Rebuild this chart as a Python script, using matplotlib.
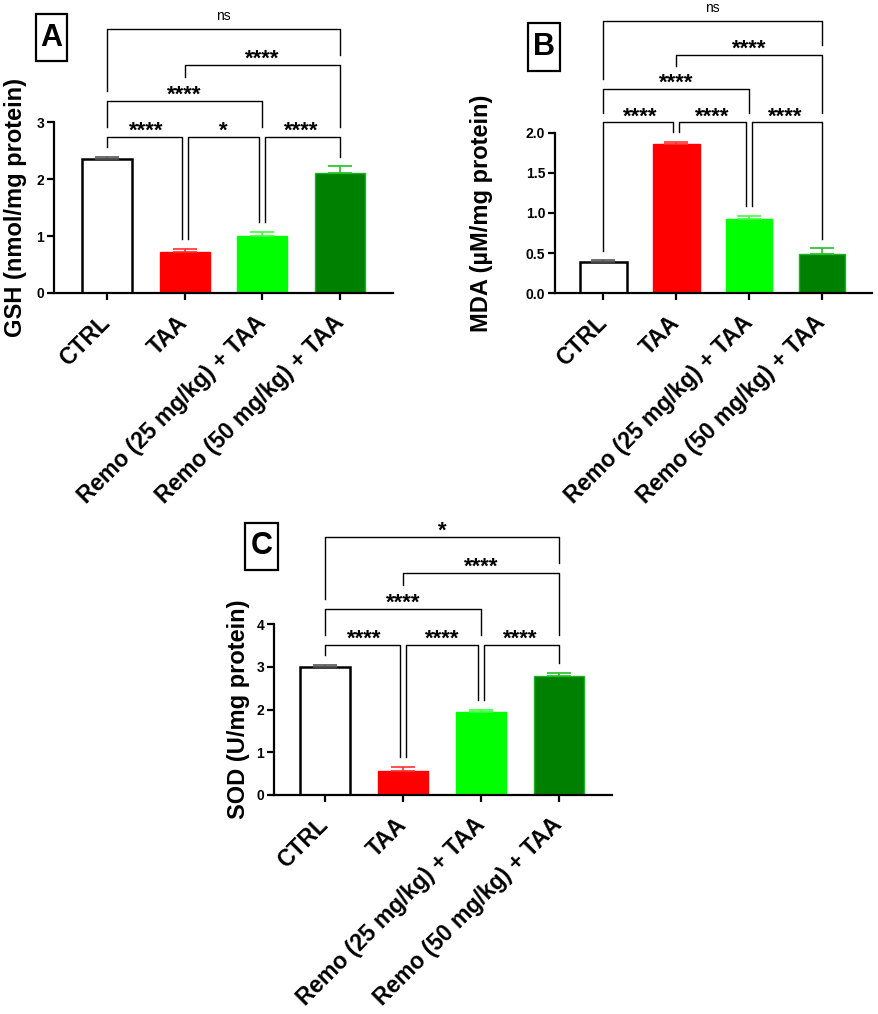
import matplotlib
matplotlib.use('Agg')
import matplotlib.pyplot as plt
from matplotlib.patches import Rectangle

plt.rcParams['font.family'] = ['Liberation Sans', 'DejaVu Sans']

groups = ['CTRL', 'TAA', 'Remo (25 mg/kg) + TAA', 'Remo (50 mg/kg) + TAA']

gsh_mean = [2.35, 0.72, 1.00, 2.10]
gsh_sem = [0.03, 0.05, 0.07, 0.12]
mda_mean = [0.39, 1.855, 0.925, 0.485]
mda_sem = [0.02, 0.035, 0.04, 0.075]
sod_mean = [2.99, 0.57, 1.94, 2.78]
sod_sem = [0.05, 0.09, 0.05, 0.08]

comparisons = [(0, 1), (1, 2), (2, 3), (0, 2), (1, 3), (0, 3)]
comparison_rows = [0, 0, 0, 1, 2, 3]
gsh_stars = ['****', '*', '****', '****', '****', 'ns']
mda_stars = ['****', '****', '****', '****', '****', 'ns']
sod_stars = ['****', '****', '****', '****', '****', '*']

bar_colors = ['white', '#ff0000', '#00ff00', '#008000']
edge_colors = ['black', '#ff0000', '#00ff00', '#22b022']
err_colors = ['#555555', '#ff3030', '#40ff40', '#22c022']

W, H = 879, 1014
fig = plt.figure(figsize=(W / 100, H / 100), dpi=100, facecolor='white')


def draw_panel(rect, means, sems, stars, yticks, yticklabels, ylabel, label_x, xlim):
    ax = fig.add_axes(rect)
    for i in range(len(groups)):
        ax.bar(i, means[i], width=0.64, color=bar_colors[i], edgecolor=edge_colors[i],
               linewidth=1.8 if i == 0 else 1.0, zorder=2)
        ax.errorbar(i, means[i], yerr=[[0], [sems[i]]], fmt='none', ecolor=err_colors[i],
                    elinewidth=1.2, capsize=8.5, capthick=1.2, zorder=3)
    ax.set_xlim(*xlim)
    ax.set_ylim(0, yticks[-1])
    ax.set_yticks(yticks)
    ax.set_yticklabels(yticklabels, fontsize=10, fontweight='bold')
    ax.set_xticks(range(len(groups)))
    ax.set_xticklabels(groups, rotation=45, ha='right', va='center', rotation_mode='anchor',
                       fontsize=16.5, fontweight='bold')
    ax.tick_params(axis='x', length=5, width=1.6, pad=14)
    ax.tick_params(axis='y', length=5, width=1.6, pad=2)
    for side in ['top', 'right']:
        ax.spines[side].set_visible(False)
    for side in ['left', 'bottom']:
        ax.spines[side].set_linewidth(1.6)
    ax.set_ylabel(ylabel, fontsize=17, fontweight='bold')
    ax.yaxis.set_label_coords(label_x, 0.5)

    # significance brackets, stacked in rows above the bars (sizes as fractions of axis height)
    span = yticks[-1]
    skyline = [m + s for m, s in zip(means, sems)]
    base = max(skyline) + 0.12 * span
    for row in sorted(set(comparison_rows)):
        members = [k for k, r in enumerate(comparison_rows) if r == row]
        ends = [e for k in members for e in comparisons[k]]
        y = base + row * 0.21 * span
        for k in members:
            i, j = comparisons[k]
            xi = i + (0.04 if ends.count(i) > 1 else 0)
            xj = j - (0.04 if ends.count(j) > 1 else 0)
            ax.plot([xi, xi, xj, xj], [skyline[i] + 0.058 * span, y, y, skyline[j] + 0.058 * span],
                    color='black', lw=1.0, clip_on=False, zorder=4)
            if stars[k] == 'ns':
                ax.annotate('ns', xy=((i + j) / 2, y), xytext=(0, 6.3), textcoords='offset points',
                            ha='center', va='baseline', fontsize=10, annotation_clip=False)
            else:
                ax.annotate(stars[k], xy=((i + j) / 2, y), xytext=(0, 0), textcoords='offset points',
                            ha='center', va='baseline', fontsize=16, fontweight='bold',
                            annotation_clip=False)
        for k in members:
            i, j = comparisons[k]
            skyline[i] = y
            skyline[j] = y
            for m in range(i + 1, j):
                skyline[m] = y + 0.082 * span
    return ax


def panel_letter(letter, x0, y0, x1, y1):
    fig.add_artist(Rectangle((x0 / W, 1 - y1 / H), (x1 - x0) / W, (y1 - y0) / H,
                             transform=fig.transFigure, facecolor='white', edgecolor='black', lw=1.6))
    fig.text((x0 + x1) / 2 / W, 1 - (y0 + y1) / 2 / H, letter, ha='center', va='center',
             fontsize=22, fontweight='bold')


draw_panel([54 / W, 1 - 293 / H, 339 / W, 171 / H], gsh_mean, gsh_sem, gsh_stars,
           [0, 1, 2, 3], ['0', '1', '2', '3'], 'GSH (nmol/mg protein)', -0.079, (-0.68, 3.68))
draw_panel([555 / W, 1 - 293.3 / H, 317 / W, 160.6 / H], mda_mean, mda_sem, mda_stars,
           [0, 0.5, 1.0, 1.5, 2.0], ['0.0', '0.5', '1.0', '1.5', '2.0'],
           'MDA (µM/mg protein)', -0.196, (-0.663, 3.686))
draw_panel([274 / W, 1 - 795 / H, 338 / W, 171 / H], sod_mean, sod_sem, sod_stars,
           [0, 1, 2, 3, 4], ['0', '1', '2', '3', '4'], 'SOD (U/mg protein)', -0.072, (-0.654, 3.68))

panel_letter('A', 36, 14, 67, 61)
panel_letter('B', 528, 23, 560, 71)
panel_letter('C', 245, 523, 278, 570)

fig.savefig('out.png', dpi=100, facecolor='white')
